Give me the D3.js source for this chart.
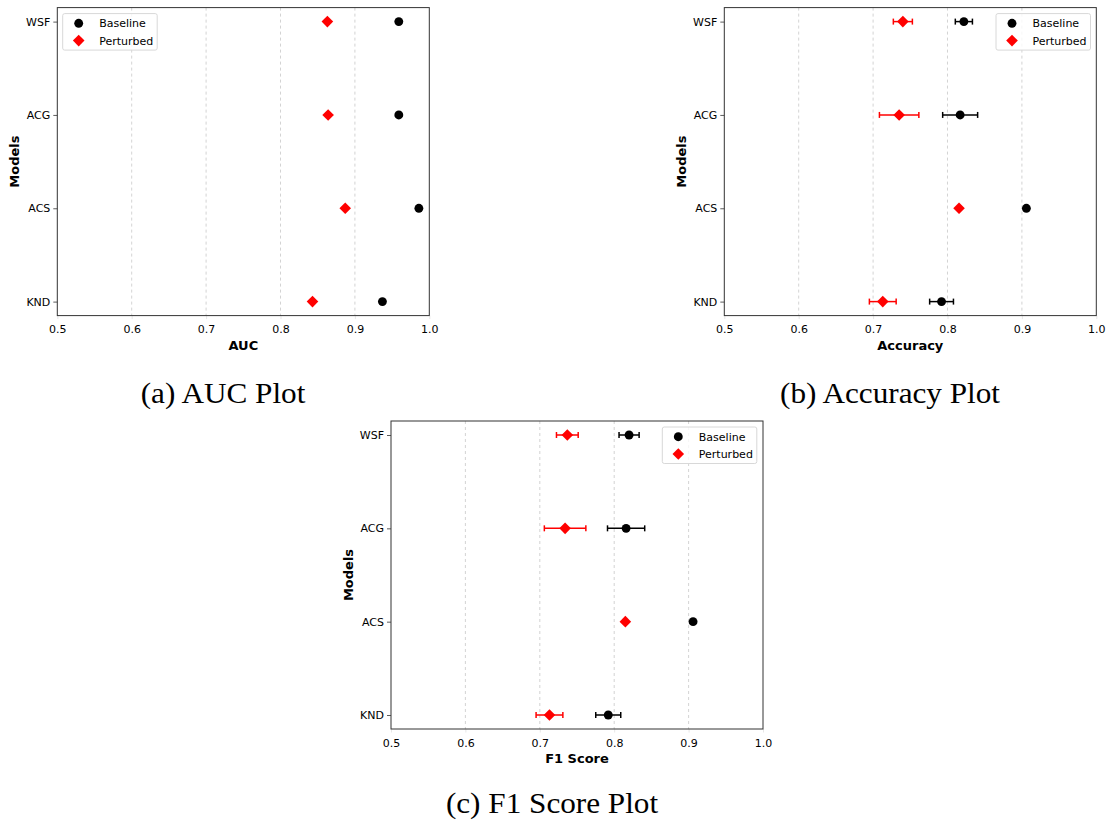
<!DOCTYPE html>
<html lang="en">
<head>
<meta charset="UTF-8">
<title>AUC / Accuracy / F1 Score Plots</title>
<script src="https://d3js.org/d3.v7.min.js"></script>
<style>
  body { margin: 0; background: #fff; }
  .tick text { font-family: "DejaVu Sans", sans-serif; font-size: 11px; fill: #000; }
  .axis-title { font-family: "DejaVu Sans", sans-serif; font-size: 13px; font-weight: bold; }
  .caption { font-family: "Liberation Serif", "DejaVu Serif", serif; font-size: 30px; }
  .legend text { font-family: "DejaVu Sans", sans-serif; font-size: 11px; }
  .grid line { stroke: #c8c8c8; stroke-dasharray: 3,3; stroke-width: 0.8; }
</style>
</head>
<body>
<div id="chart"></div>
<script>
// categories top to bottom
const models = ["WSF", "ACG", "ACS", "KND"];
const xTicks = [0.5, 0.6, 0.7, 0.8, 0.9, 1.0];

// AUC (no error bars)
const aucBaseline  = [0.959, 0.959, 0.986, 0.937];
const aucPerturbed = [0.863, 0.864, 0.887, 0.843];

// Accuracy
const accBaseline     = [0.822, 0.817, 0.906, 0.792];
const accBaselineErr  = [0.0115, 0.0235, 0, 0.016];
const accPerturbed    = [0.740, 0.735, 0.8155, 0.713];
const accPerturbedErr = [0.0128, 0.0265, 0, 0.018];

// F1 score
const f1Baseline     = [0.820, 0.816, 0.906, 0.792];
const f1BaselineErr  = [0.0135, 0.025, 0, 0.0168];
const f1Perturbed    = [0.737, 0.734, 0.815, 0.713];
const f1PerturbedErr = [0.0146, 0.0279, 0, 0.018];

const svg = d3.select("#chart").append("svg")
    .attr("width", 1106)
    .attr("height", 822);

function drawPanel(p) {
  const w = 372, h = 308;
  const g = svg.append("g").attr("transform", `translate(${p.left},${p.top})`);

  const x = d3.scaleLinear().domain([0.5, 1.0]).range([0, w]);
  // categorical axis with matplotlib-style 5% margin
  const y = d3.scaleLinear().domain([-0.15, 3.15]).range([0, h]);

  // grid
  g.append("g").attr("class", "grid")
    .selectAll("line").data(xTicks.slice(1, -1)).join("line")
      .attr("x1", d => x(d)).attr("x2", d => x(d))
      .attr("y1", 0).attr("y2", h);

  // axes
  const xAxis = g.append("g").attr("transform", `translate(0,${h})`)
    .call(d3.axisBottom(x).tickValues(xTicks).tickFormat(d3.format(".1f")).tickSize(3.5).tickPadding(6.5));
  const yAxis = g.append("g")
    .call(d3.axisLeft(y).tickValues(d3.range(models.length)).tickFormat(i => models[i]).tickSize(4).tickPadding(3));
  [xAxis, yAxis].forEach(a => {
    a.select(".domain").remove();
    a.selectAll(".tick line").attr("stroke", "#333").attr("stroke-width", 0.8);
  });
  xAxis.selectAll(".tick line").attr("stroke-opacity", 0.15);

  // frame
  g.append("rect").attr("width", w).attr("height", h)
    .attr("fill", "none").attr("stroke", "#333").attr("stroke-width", 1);

  // axis titles
  g.append("text").attr("class", "axis-title")
    .attr("x", w / 2).attr("y", h + 34).attr("text-anchor", "middle")
    .text(p.xLabel);
  g.append("text").attr("class", "axis-title")
    .attr("transform", `translate(${p.yLabelX},${h / 2}) rotate(-90)`)
    .attr("text-anchor", "middle")
    .text("Models");

  const series = [
    { vals: p.base, err: p.baseErr, color: "#000", shape: "circle" },
    { vals: p.pert, err: p.pertErr, color: "#ff0000", shape: "diamond" }
  ];

  const circle = d3.symbol().type(d3.symbolCircle).size(62);
  const diamond = "M0,-5.8L5.8,0L0,5.8L-5.8,0Z";

  series.forEach(s => {
    const rows = s.vals.map((v, i) => ({ v, e: s.err ? s.err[i] : 0, i }));
    if (s.err) {
      const eb = g.append("g").attr("stroke", s.color).attr("stroke-width", 1.5);
      rows.filter(d => d.e > 0).forEach(d => {
        const yy = y(d.i);
        eb.append("line").attr("x1", x(d.v - d.e)).attr("x2", x(d.v + d.e)).attr("y1", yy).attr("y2", yy);
        eb.append("line").attr("x1", x(d.v - d.e)).attr("x2", x(d.v - d.e)).attr("y1", yy - 3).attr("y2", yy + 3);
        eb.append("line").attr("x1", x(d.v + d.e)).attr("x2", x(d.v + d.e)).attr("y1", yy - 3).attr("y2", yy + 3);
      });
    }
    g.append("g").selectAll("path").data(rows).join("path")
      .attr("transform", d => `translate(${x(d.v)},${y(d.i)})`)
      .attr("d", s.shape === "circle" ? circle() : diamond)
      .attr("fill", s.color);
  });

  // legend
  const lg = g.append("g").attr("class", "legend").attr("transform", `translate(${p.legendX},6)`);
  lg.append("rect").attr("width", 94.5).attr("height", 36.5).attr("rx", 2)
    .attr("fill", "#fff").attr("fill-opacity", 0.8).attr("stroke", "#d8d8d8");
  lg.append("path").attr("transform", "translate(16,9.7)").attr("d", circle()).attr("fill", "#000");
  lg.append("path").attr("transform", "translate(16,27)").attr("d", diamond).attr("fill", "#ff0000");
  lg.append("text").attr("x", 36.5).attr("y", 13.7).text("Baseline");
  lg.append("text").attr("x", 36.5).attr("y", 31).text("Perturbed");

  // caption (slightly widened to mimic the wider book face)
  svg.append("text").attr("class", "caption")
    .attr("transform", `translate(${p.capX},${p.capY}) scale(1.04,1)`)
    .attr("text-anchor", "middle")
    .text(p.caption);
}

drawPanel({ left: 57.3, top: 7.6, xLabel: "AUC", yLabelX: -38,
  base: aucBaseline, baseErr: null, pert: aucPerturbed, pertErr: null,
  legendX: 5.4, caption: "(a) AUC Plot", capX: 223, capY: 403 });

drawPanel({ left: 724.3, top: 7.6, xLabel: "Accuracy", yLabelX: -38,
  base: accBaseline, baseErr: accBaselineErr, pert: accPerturbed, pertErr: accPerturbedErr,
  legendX: 271.7, caption: "(b) Accuracy Plot", capX: 890, capY: 403 });

drawPanel({ left: 391, top: 421, xLabel: "F1 Score", yLabelX: -38,
  base: f1Baseline, baseErr: f1BaselineErr, pert: f1Perturbed, pertErr: f1PerturbedErr,
  legendX: 271.3, caption: "(c) F1 Score Plot", capX: 552, capY: 813 });
</script>
</body>
</html>
